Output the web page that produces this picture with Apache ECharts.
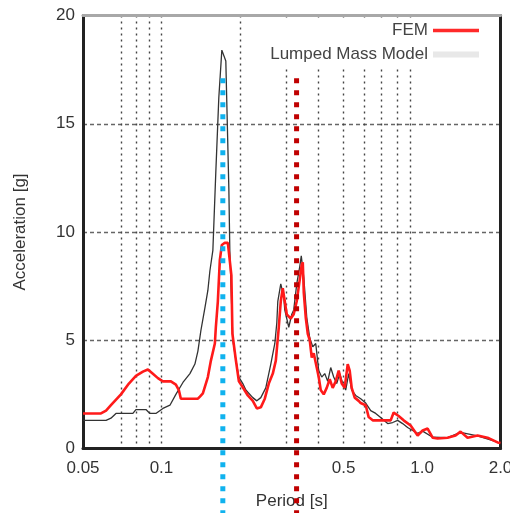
<!DOCTYPE html>
<html>
<head>
<meta charset="utf-8">
<script src="https://cdn.jsdelivr.net/npm/echarts@6/dist/echarts.min.js"></script>
<style>
html, body { margin: 0; padding: 0; background: #fff; }
#chart { width: 510px; height: 513px; }
</style>
</head>
<body>
<div id="chart"></div>
<script>
// periods [s] and accelerations [g]
const femPeriod = [0.050, 0.0586, 0.0613, 0.0640, 0.0699, 0.0750, 0.0798, 0.0849, 0.0887, 0.0927,
  0.0969, 0.1013, 0.1087, 0.1136, 0.1166, 0.1187, 0.1241, 0.1380, 0.1405, 0.1442,
  0.1507, 0.1548, 0.1603, 0.1617, 0.1646, 0.1675, 0.1705, 0.1750, 0.1798, 0.1830,
  0.1855, 0.1872, 0.1929, 0.1982, 0.2034, 0.2145, 0.2241, 0.2323, 0.2406, 0.2492,
  0.2582, 0.2675, 0.2747, 0.2820, 0.2870, 0.2921, 0.2973, 0.3026, 0.3135, 0.3218,
  0.3305, 0.3394, 0.3455, 0.3486, 0.3517, 0.3579, 0.3643, 0.3708, 0.3773, 0.3840,
  0.3943, 0.4013, 0.4085, 0.4195, 0.4307, 0.4423, 0.4541, 0.4663, 0.4788, 0.4917,
  0.5049, 0.5185, 0.5277, 0.5371, 0.5516, 0.5714, 0.5816, 0.6079, 0.6240, 0.6466,
  0.6937, 0.7580, 0.7782, 0.8132, 0.8498, 0.9040, 0.9616, 1.0052, 1.0505, 1.0978,
  1.1473, 1.2530, 1.3446, 1.4052, 1.4950, 1.6327, 1.7838, 1.9490, 2.0];
const femAccel = [1.62, 1.62, 1.75, 2.0, 2.5, 3.0, 3.35, 3.55, 3.65, 3.45,
  3.25, 3.1, 3.1, 2.95, 2.7, 2.3, 2.3, 2.3, 2.4, 2.55,
  3.3, 4.06, 4.85, 5.6, 6.8, 8.7, 9.4, 9.5, 9.5, 9.45,
  8.0, 5.3, 4.1, 3.1, 2.9, 2.45, 2.2, 1.85, 1.9, 2.3,
  3.0, 3.46, 4.06, 5.6, 6.8, 7.4, 6.8, 6.2, 6.0, 6.2,
  6.8, 7.8, 8.5, 8.6, 7.2, 6.05, 5.3, 5.0, 4.2, 4.4,
  3.74, 3.3, 2.7, 2.5, 2.8, 3.2, 2.8, 3.1, 3.6, 3.0,
  2.8, 3.9, 3.6, 2.8, 2.35, 2.2, 2.1, 2.0, 1.45, 1.3,
  1.3, 1.3, 1.66, 1.5, 1.3, 1.06, 0.6, 0.83, 0.92, 0.5,
  0.46, 0.5, 0.6, 0.78, 0.5, 0.6, 0.5, 0.28, 0.25];

const lumpPeriod = [0.050, 0.0613, 0.0640, 0.0669, 0.0777, 0.0798, 0.0872, 0.0903, 0.0952, 0.1013,
  0.1078, 0.1136, 0.1209, 0.1286, 0.1344, 0.1380, 0.1417, 0.1468, 0.1507, 0.1534,
  0.1575, 0.1617, 0.1660, 0.1705, 0.1766, 0.1814, 0.1830, 0.1879, 0.1929, 0.1982,
  0.2052, 0.2108, 0.2241, 0.2323, 0.2406, 0.2514, 0.2628, 0.2723, 0.2771, 0.2796,
  0.2870, 0.2947, 0.2973, 0.3080, 0.3163, 0.3218, 0.3305, 0.3394, 0.3440, 0.3517,
  0.3611, 0.3708, 0.3807, 0.3909, 0.4013, 0.4121, 0.4232, 0.4345, 0.4462, 0.4581,
  0.4705, 0.4831, 0.4961, 0.5094, 0.5231, 0.5371, 0.5564, 0.5816, 0.5919, 0.6079,
  0.6353, 0.6640, 0.6937, 0.7380, 0.7714, 0.8061, 0.8423, 0.8803, 0.9201, 0.9616,
  1.0052, 1.0978, 1.2530, 1.4052, 1.6327, 1.9490];
const lumpAccel = [1.3, 1.3, 1.4, 1.62, 1.62, 1.8, 1.8, 1.62, 1.62, 1.85,
  2.0, 2.5, 3.05, 3.46, 3.9, 4.5, 5.45, 6.5, 7.3, 8.2,
  9.15, 12.8, 16.2, 18.4, 17.9, 12.0, 9.1, 5.0, 4.1, 3.3,
  3.0, 2.7, 2.35, 2.2, 2.35, 2.8, 3.9, 4.85, 5.8, 6.8,
  7.6, 7.0, 6.4, 5.6, 6.2, 6.4, 7.6, 8.4, 8.9, 7.9,
  6.05, 5.1, 4.7, 4.85, 3.6, 3.3, 3.46, 3.1, 3.74, 3.3,
  3.0, 3.46, 3.0, 2.7, 3.46, 2.7, 2.45, 2.3, 2.35, 2.1,
  1.75, 1.62, 1.43, 1.15, 1.2, 1.3, 1.15, 0.97, 0.83, 0.7,
  0.8, 0.52, 0.5, 0.75, 0.58, 0.3];

// dotted vertical markers (period) and their vertical extent in [g]
const markerPeriods = [0.172, 0.33];
const markerColors = ['#10b2ee', '#c00000'];
const markerRange = [17.1, -3.0];

// x axis ticks, labels and grid lines
const xMin = 0.05, xMax = 2.0;
const xTickValues = [0.05, 0.1, 0.5, 1.0, 2.0];
const xTickText = ['0.05', '0.1', '0.5', '1.0', '2.0'];
const xGridValues = [0.06, 0.07, 0.08, 0.09, 0.1, 0.2, 0.3, 0.4, 0.5, 0.6, 0.7, 0.8, 0.9, 1.0];

const LOG = v => Math.log10(v);
const zip = (a, b) => a.map((v, i) => [v, b[i]]);
const font = 'Liberation Sans, Arial, sans-serif';

const chart = echarts.init(document.getElementById('chart'));

const markerSeries = markerPeriods.map((p, i) => ({
  name: 'marker' + i,
  type: 'line',
  xAxisIndex: 0,
  yAxisIndex: 0,
  data: [[p, markerRange[0]], [p, markerRange[1]]],
  symbol: 'none',
  clip: false,
  silent: true,
  z: 5,
  lineStyle: { color: markerColors[i], width: 5, type: [5, 7], cap: 'butt' }
}));

const option = {
  animation: false,
  backgroundColor: '#fff',
  textStyle: { fontFamily: font },
  grid: { left: 83, right: 9.5, top: 15.5, bottom: 64.5, outerBoundsMode: 'none', containLabel: false },
  legend: {
    orient: 'vertical',
    align: 'right',
    right: 20,
    top: 19,
    padding: [3, 8, 4, 8],
    backgroundColor: '#fff',
    itemWidth: 46,
    itemHeight: 17,
    itemGap: 7,
    textStyle: { fontSize: 17, color: '#444', fontFamily: font },
    data: [
      { name: 'FEM', itemStyle: { opacity: 0 }, lineStyle: { color: '#ff2a2a', width: 3.5 } },
      { name: 'Lumped Mass Model', itemStyle: { opacity: 0 }, lineStyle: { color: '#e8e8e8', width: 6 } }
    ]
  },
  xAxis: [
    {
      type: 'log',
      logBase: 10,
      min: xMin,
      max: xMax,
      position: 'top',
      axisLine: { show: true, onZero: false, lineStyle: { color: '#a8a8a8', width: 3 } },
      axisTick: { show: false },
      axisLabel: { show: false },
      splitLine: { show: false }
    },
    {
      type: 'value',
      min: LOG(xMin),
      max: LOG(xMax),
      position: 'bottom',
      axisLine: { show: true, onZero: false, lineStyle: { color: '#222', width: 3 } },
      axisTick: { show: false, customValues: xGridValues.map(LOG) },
      splitLine: {
        show: true,
        showMinLine: false,
        showMaxLine: false,
        lineStyle: { color: '#444', width: 1.4, type: [2, 4] }
      },
      axisLabel: {
        customValues: xTickValues.map(LOG),
        fontSize: 17,
        color: '#333',
        margin: 11,
        formatter: v => {
          const i = xTickValues.findIndex(t => Math.abs(LOG(t) - v) < 1e-6);
          return i >= 0 ? xTickText[i] : '';
        }
      },
      name: 'Period [s]',
      nameLocation: 'middle',
      nameGap: 44,
      nameTextStyle: { fontSize: 17, color: '#333', fontFamily: font }
    }
  ],
  yAxis: [
    {
      type: 'value',
      min: 0,
      max: 20,
      interval: 5,
      position: 'left',
      axisLine: { show: true, onZero: false, lineStyle: { color: '#222', width: 3 } },
      axisTick: { show: false },
      axisLabel: { fontSize: 17, color: '#333', margin: 8 },
      splitLine: {
        show: true,
        showMinLine: false,
        showMaxLine: false,
        lineStyle: { color: '#666', width: 1.3, type: [4, 3] }
      },
      name: 'Acceleration [g]',
      nameLocation: 'middle',
      nameGap: 54,
      nameTextStyle: { fontSize: 17, color: '#333', fontFamily: font }
    },
    {
      type: 'value',
      min: 0,
      max: 20,
      position: 'right',
      axisLine: { show: true, onZero: false, lineStyle: { color: '#222', width: 3 } },
      axisTick: { show: false },
      axisLabel: { show: false },
      splitLine: { show: false }
    }
  ],
  series: [
    {
      name: 'Lumped Mass Model',
      type: 'line',
      xAxisIndex: 0,
      yAxisIndex: 0,
      data: zip(lumpPeriod, lumpAccel),
      symbol: 'none',
      z: 2,
      itemStyle: { color: '#333' },
      lineStyle: { color: '#333', width: 1.3 }
    },
    {
      name: 'FEM',
      type: 'line',
      xAxisIndex: 0,
      yAxisIndex: 0,
      data: zip(femPeriod, femAccel),
      symbol: 'none',
      z: 3,
      itemStyle: { color: '#ff1a1a' },
      lineStyle: { color: '#ff1a1a', width: 2.6 }
    }
  ].concat(markerSeries)
};

chart.setOption(option);
</script>
</body>
</html>
